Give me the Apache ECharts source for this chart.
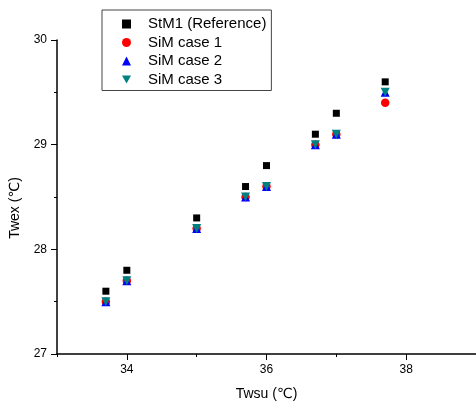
<!DOCTYPE html>
<html>
<head>
<meta charset="utf-8">
<script src="https://cdn.jsdelivr.net/npm/echarts@6/dist/echarts.min.js"></script>
<style>
  html, body { margin: 0; padding: 0; background: #fff; }
  #chart { width: 476px; height: 406px; }
</style>
</head>
<body>
<div id="chart"></div>
<script>
// Supply temperature (x) and exit temperature (y) for each run
const twsu = [33.7, 34.0, 35.0, 35.7, 36.0, 36.7, 37.0, 37.7];
const stm1 = [27.6, 27.8, 28.3, 28.6, 28.8, 29.1, 29.3, 29.6];
const simCase1 = [27.5, 27.7, 28.2, 28.5, 28.6, 29.0, 29.1, 29.4];
const simCase2 = [27.5, 27.7, 28.2, 28.5, 28.6, 29.0, 29.1, 29.5];
const simCase3 = [27.5, 27.7, 28.2, 28.5, 28.6, 29.0, 29.1, 29.5];

const seriesNames = ['StM1 (Reference)', 'SiM case 1', 'SiM case 2', 'SiM case 3'];
const xMajorTicks = [34, 36, 38];
const xMinorTicks = [33, 35, 37, 39];

const pairs = ys => twsu.map((x, i) => [x, ys[i]]);

const font = 'Arial, "Liberation Sans", "DejaVu Sans", sans-serif';
const downTriangle = 'path://M0,0 L10,0 L5,9 Z';

const chart = echarts.init(document.getElementById('chart'), null, { renderer: 'canvas' });

chart.setOption({
  animation: false,
  backgroundColor: '#fff',
  textStyle: { fontFamily: font },
  grid: { left: 56, top: 40, right: -2, bottom: 51.7, containLabel: false },
  legend: {
    orient: 'vertical',
    left: 102,
    top: 10,
    padding: [6, 5, 3, 20],
    borderColor: '#444',
    borderWidth: 1,
    itemWidth: 9,
    itemHeight: 9,
    itemGap: 2.5,
    itemStyle: { opacity: 1 },
    textStyle: { fontFamily: font, fontSize: 15, color: '#000', lineHeight: 16, padding: [0, 0, 0, 12] },
    data: [
      { name: seriesNames[0], icon: 'path://M0,0 L7,0 L7,7 L0,7 Z' },
      { name: seriesNames[1], icon: 'circle' },
      { name: seriesNames[2], icon: 'triangle' },
      { name: seriesNames[3], icon: downTriangle }
    ]
  },
  xAxis: [
    {
      type: 'value',
      min: 33,
      max: 39,
      name: 'Twsu (\u2103)',
      nameLocation: 'middle',
      nameGap: 33,
      nameTextStyle: { fontFamily: font, fontSize: 14, color: '#000' },
      axisLine: { show: true, onZero: false, lineStyle: { color: '#000', width: 1.5 } },
      axisTick: { show: true, customValues: xMajorTicks, length: 6, lineStyle: { color: '#000', width: 1 } },
      axisLabel: { show: true, customValues: xMajorTicks, margin: 10, fontFamily: font, fontSize: 12, color: '#000' },
      splitLine: { show: false }
    },
    {
      type: 'value',
      min: 33,
      max: 39,
      position: 'bottom',
      axisLine: { show: false, onZero: false },
      axisTick: { show: true, customValues: xMinorTicks, length: 3, lineStyle: { color: '#000', width: 1 } },
      axisLabel: { show: false },
      splitLine: { show: false }
    }
  ],
  yAxis: {
    type: 'value',
    min: 27,
    max: 30,
    interval: 1,
    name: 'Twex (\u2103)',
    nameLocation: 'middle',
    nameGap: 35,
    nameTextStyle: { fontFamily: font, fontSize: 14, color: '#000', padding: [0, 22, 0, 0] },
    axisLine: { show: true, onZero: false, lineStyle: { color: '#000', width: 1.5 } },
    axisTick: { show: true, length: 6, lineStyle: { color: '#000', width: 1 } },
    minorTick: { show: true, splitNumber: 2, length: 3, lineStyle: { color: '#000', width: 1 } },
    axisLabel: { margin: 10, fontFamily: font, fontSize: 12, color: '#000' },
    splitLine: { show: false },
    minorSplitLine: { show: false }
  },
  series: [
    {
      name: seriesNames[0], type: 'scatter', symbol: 'rect', symbolSize: 7,
      itemStyle: { color: '#000', opacity: 1 }, data: pairs(stm1), z: 2
    },
    {
      name: seriesNames[1], type: 'scatter', symbol: 'circle', symbolSize: 8.5,
      itemStyle: { color: '#ff0000', opacity: 1 }, data: pairs(simCase1), z: 3
    },
    {
      name: seriesNames[2], type: 'scatter', symbol: 'triangle', symbolSize: 9,
      itemStyle: { color: '#0000ff', opacity: 1 }, data: pairs(simCase2), z: 4
    },
    {
      name: seriesNames[3], type: 'scatter', symbol: 'triangle', symbolRotate: 180, symbolSize: 9,
      itemStyle: { color: '#008080', opacity: 1 }, data: pairs(simCase3), z: 5
    }
  ]
});
</script>
</body>
</html>
